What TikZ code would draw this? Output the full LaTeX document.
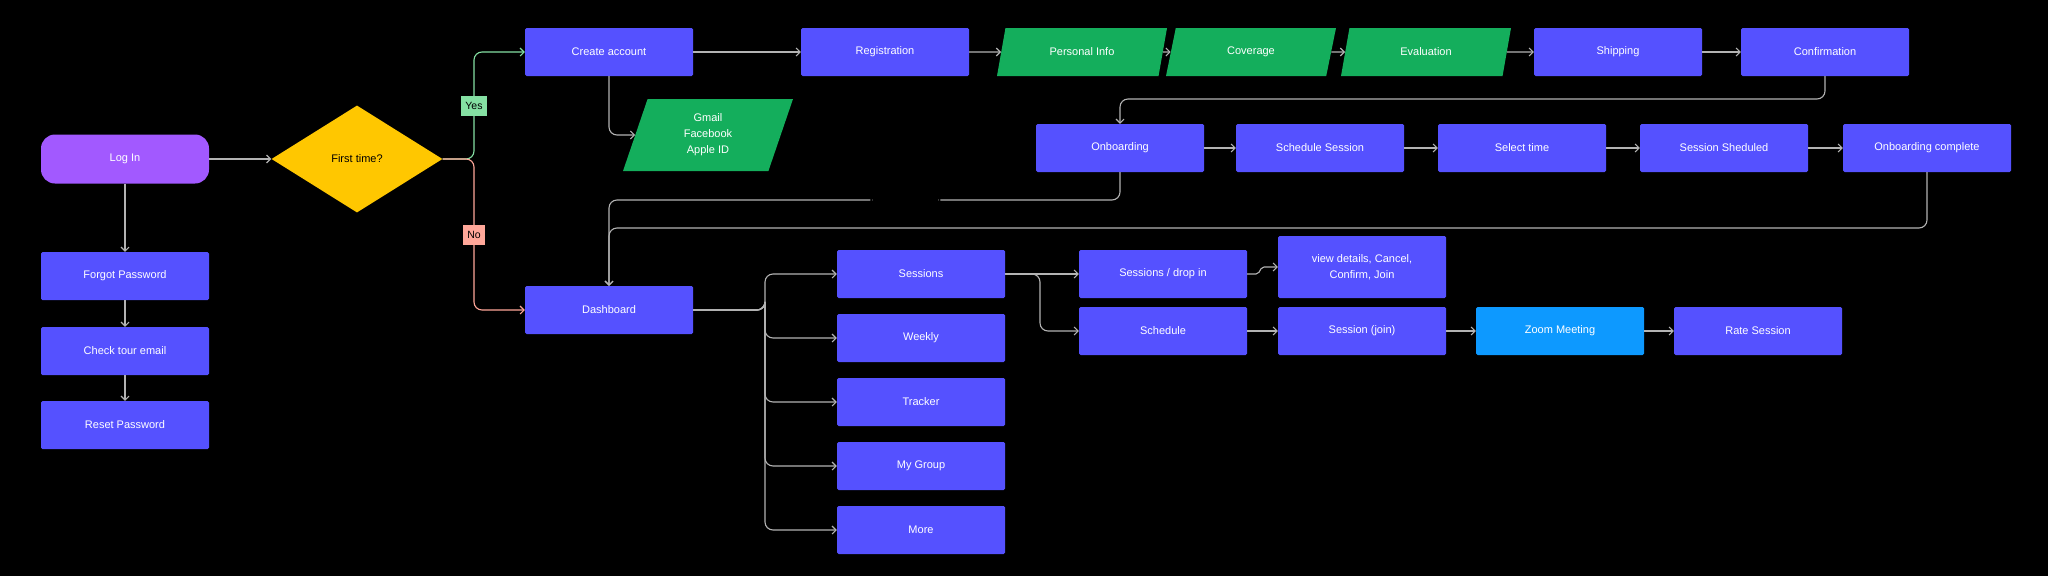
\documentclass[tikz,border=0pt]{standalone}
\usepackage{fontspec}
\setmainfont{Liberation Sans}
\usetikzlibrary{shapes.geometric,arrows.meta}
\definecolor{bx}{HTML}{5551FF}
\definecolor{gr}{HTML}{14AE5C}
\definecolor{yl}{HTML}{FFC700}
\definecolor{pu}{HTML}{A259FF}
\definecolor{zm}{HTML}{0D99FF}
\definecolor{ln}{HTML}{B3B3B3}
\definecolor{yesc}{HTML}{85E0A3}
\definecolor{noc}{HTML}{FFA799}
\begin{document}
\begin{tikzpicture}[x=1pt,y=-1pt,
  box/.style={rectangle,rounded corners=1.5pt,fill=bx,text=white,minimum width=168pt,minimum height=48pt,font=\fontsize{11}{13}\selectfont,align=center,inner sep=0pt},
  para/.style={trapezium,trapezium left angle=55,trapezium right angle=125,fill=gr,text=white,minimum width=170pt,minimum height=48pt,font=\fontsize{11}{13}\selectfont,align=center,inner sep=2pt,trapezium stretches body},
  ar/.style={draw=ln,line width=1.1pt,-{Straight Barb[length=4pt,width=8pt]},rounded corners=8pt},
  lab/.style={rectangle,font=\fontsize{10.5}{12}\selectfont,inner xsep=4pt,text=black,minimum height=20pt,rounded corners=0pt}]
\fill[black] (0,0) rectangle (2048,576);
\useasboundingbox (0,0) rectangle (2048,576);
% nodes
\node[box,fill=pu,rounded corners=14pt,minimum height=49pt] (login) at (125,159) {Log In};
\node[diamond,fill=yl,minimum width=171pt,minimum height=107pt,inner sep=0pt,aspect=1.6,font=\fontsize{11}{13}\selectfont] (ft) at (357,159) {First time?};
\node[box] (ca) at (609,52) {Create account};
\node[box] (reg) at (885,52) {Registration};
\node[para,minimum height=72pt,trapezium left angle=62,trapezium right angle=118] (gm) at (708,135) {Gmail\\[3pt]Facebook\\[3pt]Apple ID};
\node[para] (pi) at (1082,52) {Personal Info};
\node[para] (cov) at (1251,52) {Coverage};
\node[para] (ev) at (1426,52) {Evaluation};
\node[box] (ship) at (1618,52) {Shipping};
\node[box] (conf) at (1825,52) {Confirmation};
\node[box] (onb) at (1120,148) {Onboarding};
\node[box] (ss) at (1320,148) {Schedule Session};
\node[box] (st) at (1522,148) {Select time};
\node[box] (ssh) at (1724,148) {Session Sheduled};
\node[box] (oc) at (1927,148) {Onboarding complete};
\node[box] (fp) at (125,276) {Forgot Password};
\node[box] (ce) at (125,351) {Check tour email};
\node[box] (rp) at (125,425) {Reset Password};
\node[box] (db) at (609,310) {Dashboard};
\node[box] (ses) at (921,274) {Sessions};
\node[box] (wk) at (921,338) {Weekly};
\node[box] (tr) at (921,402) {Tracker};
\node[box] (mg) at (921,466) {My Group};
\node[box] (mo) at (921,530) {More};
\node[box] (sdi) at (1163,274) {Sessions / drop in};
\node[box,minimum height=62pt] (vd) at (1362,267) {view details, Cancel,\\[3pt]Confirm, Join};
\node[box] (sch) at (1163,331) {Schedule};
\node[box] (sj) at (1362,331) {Session (join)};
\node[box,fill=zm] (zmm) at (1560,331) {Zoom Meeting};
\node[box] (rs) at (1758,331) {Rate Session};
% connectors
\draw[ar] (login) -- (ft);
\draw[ar,draw=yesc] (ft.east) -| (474,107) |- (ca.west);
\node[lab,fill=yesc] (yes) at (474,106) {Yes};
\draw[ar,draw=noc] (ft.east) -| (474,235) |- (db.west);
\node[lab,fill=noc] (no) at (474,235) {No};
\draw[ar] (ca) -- (reg);
\draw[ar] (ca.south) |- (gm.west);
\draw[ar] (reg) -- (pi);
\draw[ar] (pi) -- (cov);
\draw[ar] (cov) -- (ev);
\draw[ar] (ev) -- (ship);
\draw[ar] (ship) -- (conf);
\draw[ar] (conf.south) -- (1825,99) -- (1120,99) -- (onb.north);
\draw[ar] (onb) -- (ss);
\draw[ar] (ss) -- (st);
\draw[ar] (st) -- (ssh);
\draw[ar] (ssh) -- (oc);
\draw[ar] (onb.south) -- (1120,200) -- (609,200) node[pos=0.42,fill=black,minimum width=70pt,minimum height=6pt,inner sep=0pt] {} -- (db.north);
\draw[ar] (oc.south) -- (1927,228) -- (609,228) -- (db.north);
\draw[ar] (login) -- (fp);
\draw[ar] (fp) -- (ce);
\draw[ar] (ce) -- (rp);
\foreach \t in {ses,wk,tr,mg,mo} \draw[ar] (db.east) -| (765,300) |- (\t.west);
\draw[ar] (ses) -- (sdi);
\draw[ar] (ses.east) -| (1040,300) |- (sch.west);
\draw[ar,rounded corners=2pt] (sdi.east) -- (1258,274) -- (1262,267) -- (vd.west);
\draw[ar] (sch) -- (sj);
\draw[ar] (sj) -- (zmm);
\draw[ar] (zmm) -- (rs);
\end{tikzpicture}
\end{document}
